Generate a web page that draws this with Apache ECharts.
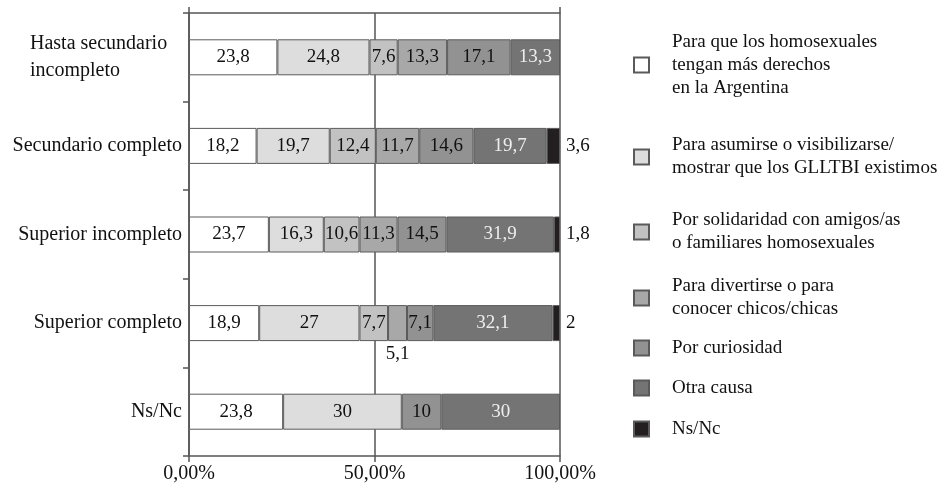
<!DOCTYPE html>
<html>
<head>
<meta charset="utf-8">
<script src="https://cdn.jsdelivr.net/npm/echarts@6/dist/echarts.min.js"></script>
<style>
  html, body { margin: 0; padding: 0; background: #fff; }
  #chart { width: 951px; height: 485px; }
</style>
</head>
<body>
<div id="chart"></div>
<script>
// Nivel educativo (filas del gráfico, de arriba hacia abajo)
const categories = [
  'Hasta secundario\nincompleto',
  'Secundario completo',
  'Superior incompleto',
  'Superior completo',
  'Ns/Nc'
];

// Motivos (series apiladas)
const seriesNames = [
  'Para que los homosexuales\ntengan más derechos\nen la Argentina',
  'Para asumirse o visibilizarse/\nmostrar que los GLLTBI existimos',
  'Por solidaridad con amigos/as\no familiares homosexuales',
  'Para divertirse o para\nconocer chicos/chicas',
  'Por curiosidad',
  'Otra causa',
  'Ns/Nc'
];

// Valores por motivo, uno por nivel educativo (null = sin dato)
const derechos     = [23.8, 18.2, 23.7, 18.9, 23.8];
const visibilizar  = [24.8, 19.7, 16.3, 27,   30];
const solidaridad  = [7.6,  12.4, 10.6, 7.7,  null];
const divertirse   = [13.3, 11.7, 11.3, 5.1,  null];
const curiosidad   = [17.1, 14.6, 14.5, 7.1,  10];
const otraCausa    = [13.3, 19.7, 31.9, 32.1, 30];
const nsnc         = [null, 3.6,  1.8,  2,    null];

const xTickLabels = ['0,00%', '50,00%', '100,00%'];

const values = [derechos, visibilizar, solidaridad, divertirse, curiosidad, otraCausa, nsnc];
const colors = ['#ffffff', '#dddddd', '#c2c2c2', '#a8a8a8', '#929292', '#747474', '#231f20'];
const legendCenters = [65, 157, 232, 298, 348, 388, 429];

// Totales por fila para el apilado al 100 %
const rowTotals = categories.map((_, i) =>
  values.reduce((s, arr) => s + (arr[i] || 0), 0));

const fmt = v => String(v).replace('.', ',');
const serif = 'Liberation Serif';

const series = values.map((arr, si) => ({
  name: seriesNames[si],
  type: 'bar',
  stack: 'total',
  barWidth: 36,
  itemStyle: { color: colors[si], borderColor: '#5a5a5a', borderWidth: 1 },
  label: {
    show: true,
    position: si === 6 ? 'right' : 'inside',
    distance: 6,
    fontFamily: serif,
    fontSize: 19,
    color: si === 5 ? '#eeeeee' : '#111111',
    formatter: p => (p.data && p.data.raw != null) ? fmt(p.data.raw) : ''
  },
  data: arr.map((v, ci) => {
    if (v == null) return { value: null, raw: null };
    const item = { value: v / rowTotals[ci] * 100, raw: v };
    // etiqueta debajo del segmento angosto de "Superior completo"
    if (si === 3 && ci === 3) item.label = { position: 'bottom', distance: 3 };
    return item;
  })
}));

const legends = seriesNames.map((name, i) => {
  const lines = name.split('\n').length;
  const lh = 23;
  return {
    data: [{ name: name, icon: 'rect' }],
    orient: 'vertical',
    left: 633,
    top: legendCenters[i] - lines * lh / 2,
    padding: 0,
    itemWidth: 15,
    itemHeight: 15,
    selectedMode: false,
    textStyle: {
      fontFamily: serif,
      fontSize: 19,
      color: '#111',
      lineHeight: lh,
      padding: [0, 0, 0, 18]
    }
  };
});

const chart = echarts.init(document.getElementById('chart'), null, { renderer: 'canvas' });
chart.setOption({
  animation: false,
  backgroundColor: '#fff',
  grid: { left: 189, right: 391, top: 13, bottom: 29, containLabel: false },
  legend: legends,
  xAxis: [{
    type: 'value',
    min: 0, max: 100, interval: 50,
    axisLine: { show: true, lineStyle: { color: '#555', width: 1.5 } },
    axisTick: { show: true, length: 6, lineStyle: { color: '#555', width: 1.5 } },
    axisLabel: {
      fontFamily: serif, fontSize: 20, color: '#111', margin: 8,
      formatter: v => xTickLabels[Math.round(v / 50)]
    },
    splitLine: { show: true, lineStyle: { color: '#555', width: 1.5 } }
  }, {
    type: 'value',
    position: 'top',
    min: 0, max: 100, interval: 50,
    axisLine: { show: true, lineStyle: { color: '#555', width: 1.5 } },
    axisTick: { show: true, length: 6, customValues: [0, 100], lineStyle: { color: '#555', width: 1.5 } },
    axisLabel: { show: false },
    splitLine: { show: false }
  }],
  yAxis: {
    type: 'category',
    inverse: true,
    data: categories,
    axisLine: { show: true, lineStyle: { color: '#555', width: 1.5 } },
    axisTick: { show: true, length: 6, lineStyle: { color: '#555', width: 1.5 } },
    axisLabel: {
      fontFamily: serif, fontSize: 20, color: '#111', margin: 7, lineHeight: 27,
      formatter: v => v.indexOf('\n') >= 0
        ? v.split('\n').map(s => '{l|' + s + '}').join('\n')
        : v,
      rich: { l: { width: 152, align: 'left', fontFamily: serif, fontSize: 20, color: '#111', lineHeight: 27 } }
    }
  },
  series: series
});
</script>
</body>
</html>
